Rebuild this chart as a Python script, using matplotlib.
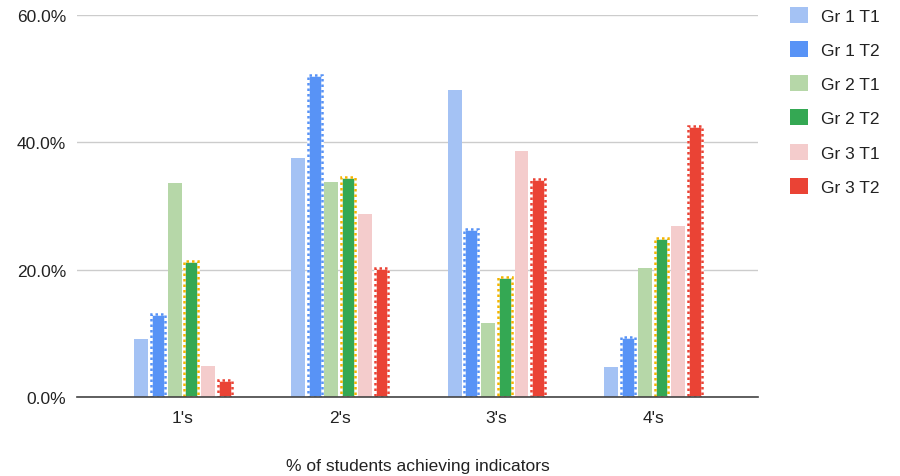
import numpy as np
import matplotlib
matplotlib.use('Agg')
import matplotlib.pyplot as plt
from matplotlib.patches import Patch
from matplotlib.ticker import FuncFormatter

plt.rcParams['font.family'] = ['Liberation Sans', 'DejaVu Sans']

categories = ["1's", "2's", "3's", "4's"]
series_names = ['Gr 1 T1', 'Gr 1 T2', 'Gr 2 T1', 'Gr 2 T2', 'Gr 3 T1', 'Gr 3 T2']
gr1_t1 = [9.1, 37.5, 48.2, 4.7]
gr1_t2 = [13.0, 50.6, 26.4, 9.4]
gr2_t1 = [33.6, 33.7, 11.7, 20.3]
gr2_t2 = [21.3, 34.5, 18.9, 25.0]
gr3_t1 = [4.9, 28.8, 38.7, 26.9]
gr3_t2 = [2.7, 20.3, 34.2, 42.6]

values = [gr1_t1, gr1_t2, gr2_t1, gr2_t2, gr3_t1, gr3_t2]
colors = ['#a4c2f4', '#5893f6', '#b6d7a8', '#34a853', '#f4cccc', '#ea4335']
# T2 bars get a dotted outline; None means plain bar
outlines = [None, '#5893f6', None, '#f4b400', None, '#ea4335']

fig = plt.figure(figsize=(9, 4.77), dpi=100)
ax = fig.add_axes([0.0856, 0.1656, 0.7567, 0.801])

x = np.arange(len(categories))
pitch = 0.1066
width = 0.088
for i, (vals, col, edge) in enumerate(zip(values, colors, outlines)):
    pos = x + (i - 2.5) * pitch
    ax.bar(pos, vals, width=width, color=col, zorder=3)
    if edge is not None:
        ax.bar(pos, vals, width=width, fill=False, edgecolor='white',
               linewidth=1.8, zorder=4)
        ax.bar(pos, vals, width=width, fill=False, edgecolor=edge,
               linewidth=1.8, linestyle=(0, (1, 1.2)), zorder=5)

ax.set_xlim(-0.6765, 3.67)
ax.set_ylim(0, 60)
ax.set_yticks([0, 20, 40, 60])
ax.yaxis.set_major_formatter(FuncFormatter(lambda v, _: f'{v:.1f}%'))
ax.set_xticks(x)
ax.set_xticklabels(categories)
ax.tick_params(axis='both', length=0, labelsize=12.5, colors='#222222')
ax.tick_params(axis='y', pad=8)
ax.tick_params(axis='x', pad=9)
ax.grid(axis='y', color='#cccccc', linewidth=1, zorder=0)
for s in ['top', 'right', 'left']:
    ax.spines[s].set_visible(False)
ax.spines['bottom'].set_color('#444444')
ax.spines['bottom'].set_linewidth(1.2)
ax.spines['bottom'].set_zorder(6)

ax.set_xlabel('% of students achieving indicators', fontsize=12.5,
              color='#222222', labelpad=24)

handles = [Patch(facecolor=c, edgecolor='none') for c in colors]
fig.legend(handles, series_names, loc='upper left',
           bbox_to_anchor=(0.8778, 0.984), frameon=False, fontsize=12.5,
           borderpad=0, borderaxespad=0,
           handlelength=1.04, handleheight=1.04, handletextpad=0.75,
           labelspacing=1.0, labelcolor='#222222')

fig.savefig('out.png', dpi=100)
